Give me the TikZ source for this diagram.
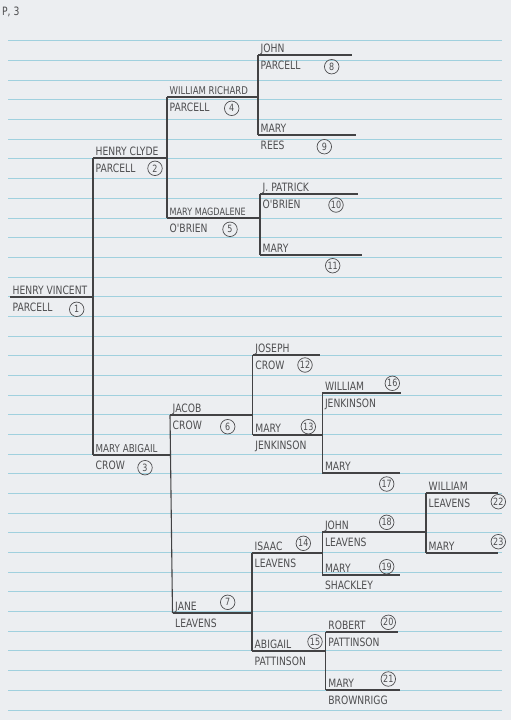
\documentclass[tikz,border=0pt]{standalone}
\usepackage{fontspec}
\setmainfont{DejaVu Sans}
\newfontfamily\hand[FakeStretch=0.8]{DejaVu Sans}
\usetikzlibrary{positioning}
\definecolor{paper}{RGB}{236,238,241}
\definecolor{rulecol}{RGB}{160,208,222}
\definecolor{pencil}{RGB}{78,78,80}
\definecolor{lead}{RGB}{66,66,68}

\begin{document}
\begin{tikzpicture}[x=1pt,y=-1pt,
    rule/.style={rulecol, line width=0.6pt},
    bar/.style={lead, line width=1.1pt},
    first/.style={anchor=base west, inner sep=0pt, text=pencil, font=\hand\fontsize{11.5}{12}\selectfont},
    last/.style={anchor=base west, inner sep=0pt, text=pencil, font=\hand\fontsize{11.5}{12}\selectfont},
    num/.style={circle, draw=pencil, line width=0.7pt, inner sep=0pt, minimum size=14.5pt,
      text=pencil, font=\hand\fontsize{10}{10}\selectfont}]
  \fill[paper] (0,0) rectangle (511,720);
  \useasboundingbox (0,0) rectangle (511,720);
  \foreach \k in {0,...,34}
    {\draw[rule] (8,{40.7+19.68*\k}) -- (502,{40.7+19.68*\k});}
  \node[anchor=base west, inner sep=0pt, text=pencil, font=\hand\fontsize{11.5}{12}\selectfont] (page) at (2,15.5) {P, 3};
  \foreach \id/\xa/\xb/\y/\fn/\ln/\nx/\ny in {
      1/10/93/297/{HENRY VINCENT}/PARCELL/76.7/309.3,
      2/93/167/158/{HENRY CLYDE}/PARCELL/155/168.3,
      3/93/170.5/455/{\fontsize{10.9}{11}\selectfont MARY ABIGAIL}/CROW/145/467.7,
      4/167/258/97/{\fontsize{10.7}{11}\selectfont WILLIAM RICHARD}/PARCELL/231.7/108.3,
      5/167/260/218/{\fontsize{10.1}{11}\selectfont MARY MAGDALENE}/O'BRIEN/230/229.3,
      6/170/252.7/415/JACOB/CROW/227.7/426.7,
      7/172.5/252/613/JANE/LEAVENS/227.7/602.3,
      8/258/352/55/JOHN/PARCELL/331.7/66.7,
      9/258/356/135/MARY/REES/324.3/146.7,
      10/260/358/194/{J. PATRICK}/O'BRIEN/336/205,
      11/260/362/255/MARY/{}/332.7/265.7,
      12/252.7/320/355/JOSEPH/CROW/305/365,
      13/252.7/322.3/435/MARY/JENKINSON/308.3/426.7,
      14/252/322.3/553/ISAAC/LEAVENS/303.3/543.3,
      15/252/325.7/651/ABIGAIL/PATTINSON/315/641.7,
      16/322.3/401/393/WILLIAM/JENKINSON/392.3/383.3,
      17/322.3/400/473/MARY/{}/386.7/484,
      18/322.3/426/532/JOHN/LEAVENS/386.7/522.3,
      19/322.3/400/575/MARY/SHACKLEY/386.7/566.7,
      20/325.7/398/632/ROBERT/PATTINSON/388.3/622.3,
      21/325.7/400/690/MARY/BROWNRIGG/388.3/679,
      22/426/498/493/WILLIAM/LEAVENS/498.3/501.7,
      23/426/498/553/MARY/{}/498.3/541.7}
    {\coordinate (a\id) at (\xa,\y);
     \coordinate (b\id) at (\xb,\y);
     \draw[bar] (a\id) -- (b\id);
     \node[first] (f\id) at (\xa+2.5,\y-2.8) {\fn};
     \node[last] (l\id) at (\xa+2.5,\y+14.5) {\ln};
     \node[num] (n\id) at (\nx,\ny) {\id};}
  \foreach \u/\v in {2/3, 4/5, 6/7, 8/9, 10/11, 12/13, 14/15, 16/17, 18/19, 20/21, 22/23}
    {\draw[bar] (a\u) -- (a\v);}
\end{tikzpicture}
\end{document}
